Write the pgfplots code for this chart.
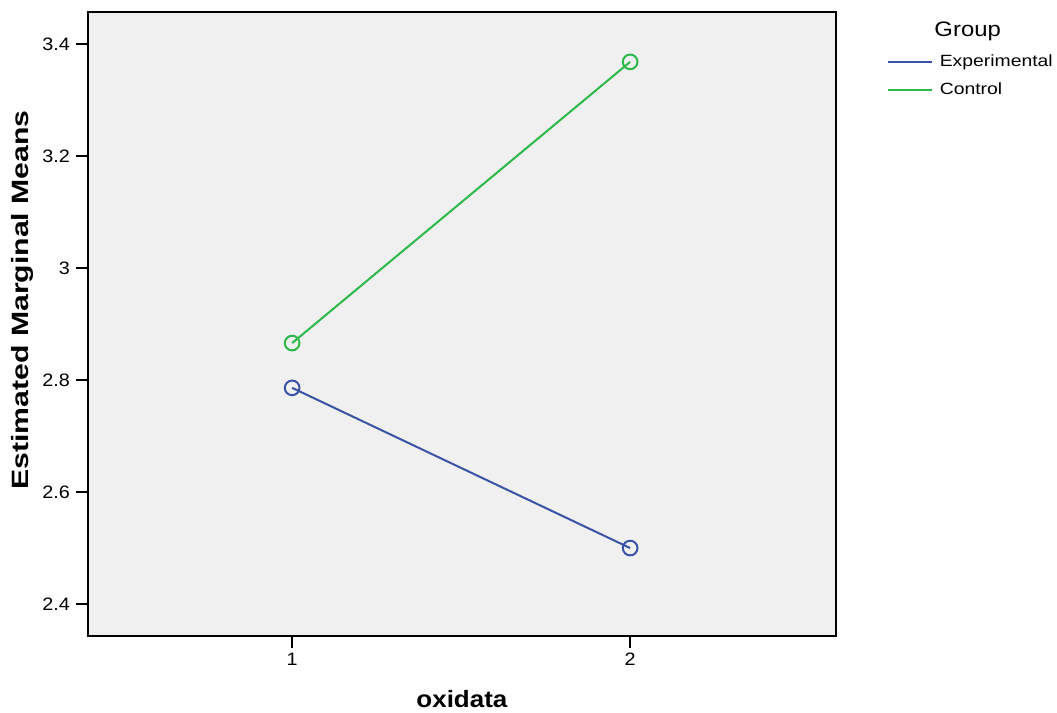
\documentclass[border=0pt]{standalone}
\usepackage{pgfplots}
\pgfplotsset{compat=1.18}
\usetikzlibrary{calc}
\usepackage{fontspec}
\setmainfont{Liberation Sans}
\definecolor{bg}{HTML}{F0F0F0}
\definecolor{expblue}{HTML}{3A53A4}
\definecolor{ctrlgreen}{HTML}{2DB84A}
\begin{document}
\begin{tikzpicture}
\begin{axis}[
  scale only axis,
  width=561pt, height=468pt,
  xmin=0.396, xmax=2.609,
  ymin=2.343, ymax=3.457,
  xtick={1,2}, ytick={2.4,2.6,2.8,3.0,3.2,3.4},
  xticklabels={\scalebox{1.1}[1]{1},\scalebox{1.1}[1]{2}},
  yticklabels={\scalebox{1.1}[1]{2.4},\scalebox{1.1}[1]{2.6},\scalebox{1.1}[1]{2.8},\scalebox{1.1}[1]{3},\scalebox{1.1}[1]{3.2},\scalebox{1.1}[1]{3.4}},
  tick align=outside, tick pos=left,
  major tick length=9pt,
  tick style={black, line width=1pt},
  axis line style={black, line width=1.4pt},
  axis background/.style={fill=bg},
  ticklabel style={font=\fontsize{13.5}{15}\selectfont},
  yticklabel style={xshift=-1pt},
  xlabel={\scalebox{1.1}[1]{\textbf{oxidata}}},
  ylabel={\scalebox{1.28}[1]{\textbf{Estimated Marginal Means}}},
  xlabel style={font=\fontsize{17.7}{20}\selectfont, yshift=-12pt},
  ylabel style={font=\fontsize{17.7}{20}\selectfont, at={(ticklabel cs:0.5385)}},
  legend style={draw=none, fill=none, at={(1.068,0.936)}, anchor=north west,
    font=\fontsize{12.2}{14}\selectfont, row sep=6.5pt, inner sep=0pt,
    /tikz/every odd column/.append style={column sep=3pt}},
  legend cell align=left,
  legend image code/.code={\draw[mark=none] (0pt,0pt) -- (33pt,0pt);},
]
\addplot[expblue, line width=1.5pt, mark=o, mark size=5.5pt, mark options={line width=1.5pt}] coordinates {(1,2.786) (2,2.5)};
\addlegendentry{\scalebox{1.19}[1]{Experimental}}
\addplot[ctrlgreen, line width=1.5pt, mark=o, mark size=5.5pt, mark options={line width=1.5pt}] coordinates {(1,2.866) (2,3.368)};
\addlegendentry{\scalebox{1.19}[1]{Control}}
\coordinate (grp) at (rel axis cs:1.176,0.969);
\end{axis}
\node[anchor=center, font=\fontsize{15.7}{18}\selectfont] at (grp) {\scalebox{1.14}[1]{Group}};
\path[use as bounding box] ($(current axis.south west)+(-66pt,-56.25pt)$) rectangle ($(current axis.north east)+(165.75pt,9pt)$);
\end{tikzpicture}
\end{document}
